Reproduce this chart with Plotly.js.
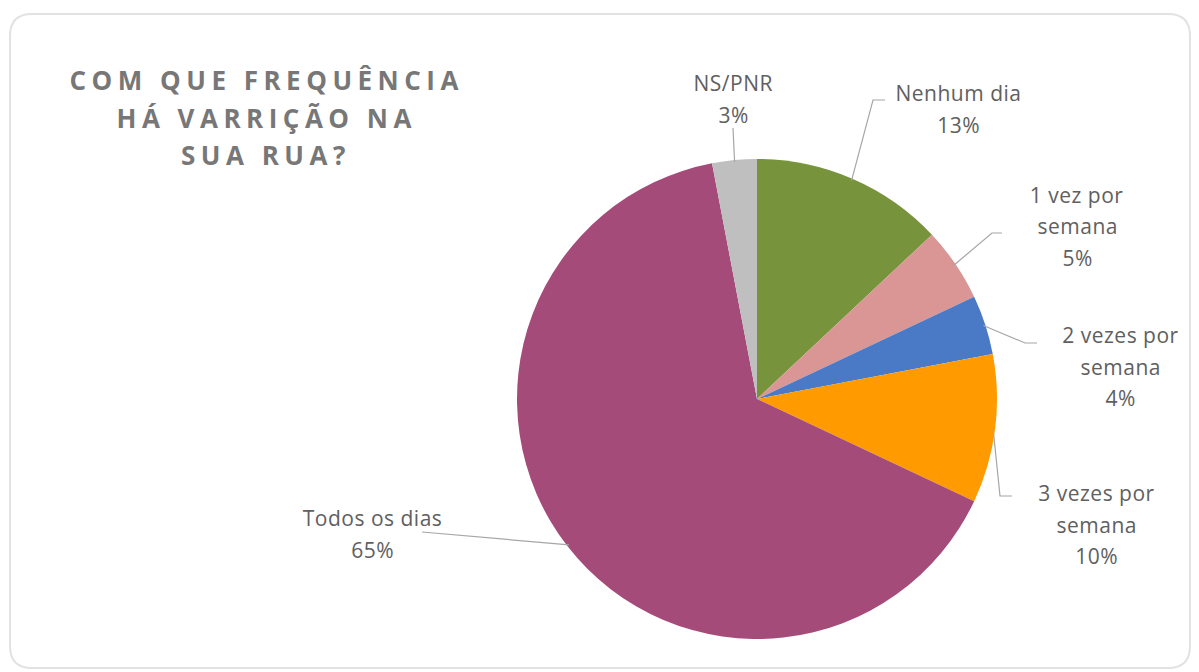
<!DOCTYPE html>
<html>
<head>
<meta charset="utf-8">
<script src="https://cdn.plot.ly/plotly-3.0.1.min.js"></script>
<style>
html,body{margin:0;padding:0;background:#fff;}
#chart{width:1199px;height:672px;}
</style>
</head>
<body>
<div id="chart"></div>
<script>
// ---- data ----
const categories = ["Nenhum dia", "1 vez por semana", "2 vezes por semana", "3 vezes por semana", "Todos os dias", "NS/PNR"];
const labelText = ["Nenhum dia", "1 vez por<br>semana", "2 vezes por<br>semana", "3 vezes por<br>semana", "Todos os dias", "NS/PNR"];
const values = [13, 5, 4, 10, 65, 3];
const colors = ["#77933C", "#D99694", "#4A7AC6", "#FF9A00", "#A44B79", "#BFBFBF"];
const titleLines = ["COM QUE FREQUÊNCIA", "HÁ VARRIÇÃO NA", "SUA RUA?"];

// ---- layout (pixel positions) ----
const W = 1199, H = 672;
const cx = 757, cy = 399, R = 240;
const labelPos = [[958, 93], [1077, 195], [1120, 335], [1096, 493], [372, 518], [733, 83]];
const leaderPts = [[[873, 100], [885, 100]], [[992, 233], [1002, 233]], [[1025, 343], [1037, 343]], [[1000, 496], [1012, 496]], [[422, 532]], [[733, 128]]];
const titlePos = [[266, 80], [266, 118], [266, 155]];
const lineGap = 31.5;

const px = x => x / W;
const py = y => 1 - y / H;

const annotations = [];
titleLines.forEach((t, i) => {
  annotations.push({
    text: t, xref: 'paper', yref: 'paper', x: px(titlePos[i][0]), y: py(titlePos[i][1]),
    xanchor: 'center', yanchor: 'middle', showarrow: false,
    font: {family: 'Open Sans, sans-serif', size: 26, color: '#777777', weight: 'bold'}
  });
});
categories.forEach((c, i) => {
  const lines = labelText[i].split('<br>').concat([values[i] + '%']);
  lines.forEach((ln, j) => {
    annotations.push({
      text: ln, xref: 'paper', yref: 'paper', x: px(labelPos[i][0]), y: py(labelPos[i][1] + j * lineGap),
      xanchor: 'center', yanchor: 'middle', showarrow: false,
      font: {family: 'Open Sans, sans-serif', size: 21, color: '#606060'}
    });
  });
});

// leader lines, starting at the slice midpoint on the rim
const total = values.reduce((a, b) => a + b, 0);
const shapes = [];
let cum = 0;
values.forEach((v, i) => {
  const mid = (cum + v / 2) / total * 2 * Math.PI;
  cum += v;
  const sx = cx + (R - 2) * Math.sin(mid), sy = cy - (R - 2) * Math.cos(mid);
  let path = 'M' + px(sx) + ',' + py(sy);
  leaderPts[i].forEach(p => { path += ' L' + px(p[0]) + ',' + py(p[1]); });
  shapes.push({type: 'path', xref: 'paper', yref: 'paper', path: path,
    line: {color: '#a6a6a6', width: 1.2}});
});

// card border (rounded rectangle)
(function () {
  const x0 = 10, y0 = 14, x1 = 1190, y1 = 668, r = 22;
  const p = [
    'M', px(x0 + r), py(y0), 'L', px(x1 - r), py(y0),
    'Q', px(x1), py(y0), px(x1), py(y0 + r),
    'L', px(x1), py(y1 - r), 'Q', px(x1), py(y1), px(x1 - r), py(y1),
    'L', px(x0 + r), py(y1), 'Q', px(x0), py(y1), px(x0), py(y1 - r),
    'L', px(x0), py(y0 + r), 'Q', px(x0), py(y0), px(x0 + r), py(y0), 'Z'
  ];
  let s = '';
  for (let k = 0; k < p.length; k++) {
    const t = p[k];
    if (typeof t === 'string') s += t;
    else { s += t + (typeof p[k + 1] === 'number' ? ',' : ' '); }
  }
  shapes.unshift({type: 'path', xref: 'paper', yref: 'paper', path: s,
    line: {color: '#e2e2e2', width: 2}, layer: 'below'});
})();

const trace = {
  type: 'pie',
  labels: categories,
  values: values,
  sort: false,
  direction: 'clockwise',
  rotation: 0,
  textinfo: 'none',
  hoverinfo: 'label+percent',
  marker: {colors: colors, line: {color: '#ffffff', width: 0}},
  domain: {x: [(cx - R) / W, (cx + R) / W], y: [(H - cy - R) / H, (H - cy + R) / H]},
  showlegend: false
};

const layout = {
  width: W, height: H,
  margin: {l: 0, r: 0, t: 0, b: 0},
  paper_bgcolor: '#ffffff',
  showlegend: false,
  annotations: annotations,
  shapes: shapes
};

Plotly.newPlot('chart', [trace], layout, {staticPlot: true}).then(() => {
  const texts = document.querySelectorAll('.annotation-text');
  texts.forEach((t, i) => {
    if (i < titleLines.length) {
      t.style.letterSpacing = '5.5px';
    } else {
      t.style.letterSpacing = '0.5px';
    }
  });
});
</script>
</body>
</html>
